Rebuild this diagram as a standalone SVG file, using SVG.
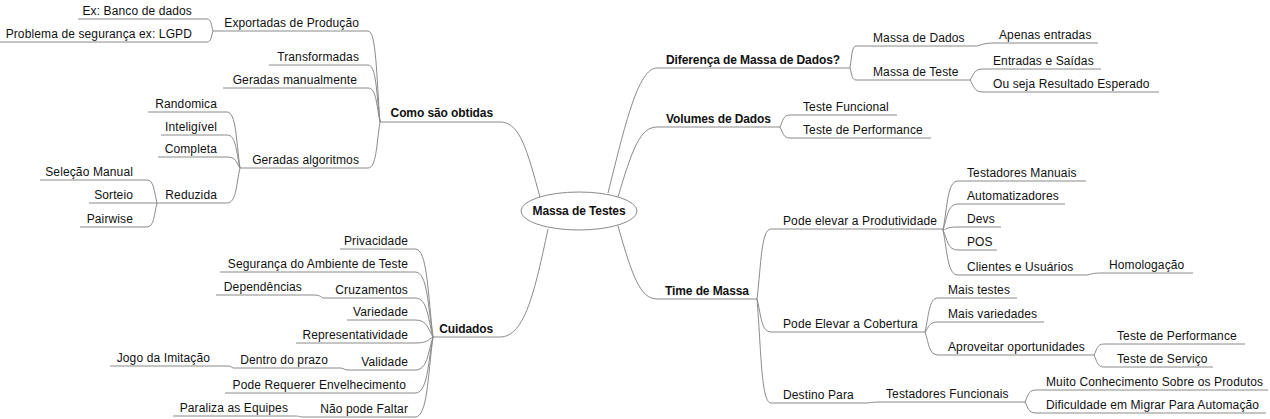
<svg xmlns="http://www.w3.org/2000/svg" width="1270" height="419" viewBox="0 0 1270 419">
<style>
text{font-family:"Liberation Sans",Arial,sans-serif;font-size:12px;fill:#111;letter-spacing:0.12px}
.b{font-weight:bold;letter-spacing:-0.1px}
.e{text-anchor:end}
.u,.c path{stroke:#8a8a8a;stroke-width:1;fill:none}
</style>
<rect width="1270" height="419" fill="#fff"/>
<g class="c" id="connectors">
<path d="M540 197 C527 150 520 122 500 122"/>
<path d="M548 229 C535 290 525 337 500 337"/>
<path d="M608 193 C625 125 638 68 657 68"/>
<path d="M618 197 C632 150 640 127 657 127"/>
<path d="M618 226 C632 275 640 299 657 299"/>
<path d="M380 122 C376.4 76.5 376.4 31 368 31"/>
<path d="M380 122 C376.4 93.5 376.4 65 368 65"/>
<path d="M380 122 C376.4 105 376.4 88 368 88"/>
<path d="M380 122 C376.4 145 376.4 168 368 168"/>
<path d="M213 31 C211.2 25 211.2 19 207 19"/>
<path d="M213 31 C211.2 36.5 211.2 42 207 42"/>
<path d="M240 168 C236.1 140 236.1 112 227 112"/>
<path d="M240 168 C236.1 151.5 236.1 135 227 135"/>
<path d="M240 168 C236.1 162.5 236.1 157 227 157"/>
<path d="M240 168 C236.1 185.5 236.1 203 227 203"/>
<path d="M157 203 C154 191.5 154 180 147 180"/>
<path d="M157 203 L147 203"/>
<path d="M157 203 C154 215 154 227 147 227"/>
<path d="M433 337 C427.6 293 427.6 249 415 249"/>
<path d="M433 337 C427.6 304.5 427.6 272 415 272"/>
<path d="M433 337 C427.6 317.5 427.6 298 415 298"/>
<path d="M433 337 C427.6 328.5 427.6 320 415 320"/>
<path d="M433 337 C427.6 340 427.6 343 415 343"/>
<path d="M433 337 C427.6 353.5 427.6 370 415 370"/>
<path d="M433 337 C427.6 365 427.6 393 415 393"/>
<path d="M433 337 C427.6 377 427.6 417 415 417"/>
<path d="M323 298 C320 296.5 320 295 313 295"/>
<path d="M347 370 C343 369 343 368 340 368"/>
<path d="M233 368 C231 367 231 366 227 366"/>
<path d="M302 417 C299 416.5 299 416 293 416"/>
<path d="M850 68 C851.8 57 851.8 46 856 46"/>
<path d="M850 68 C851.8 74 851.8 80 856 80"/>
<path d="M977 46 C983 44.5 983 43 997 43"/>
<path d="M970 80 C973.9 74.5 973.9 69 983 69"/>
<path d="M970 80 C973.9 86 973.9 92 983 92"/>
<path d="M780 127 C783 121 783 115 790 115"/>
<path d="M780 127 C783 132.5 783 138 790 138"/>
<path d="M757 299 C761.2 264 761.2 229 771 229"/>
<path d="M757 299 C761.2 315.5 761.2 332 771 332"/>
<path d="M757 299 C761.2 351 761.2 403 771 403"/>
<path d="M943 230 C947.5 205.5 947.5 181 958 181"/>
<path d="M943 230 C947.5 217 947.5 204 958 204"/>
<path d="M943 230 C947.5 228.5 947.5 227 958 227"/>
<path d="M943 230 C947.5 240 947.5 250 958 250"/>
<path d="M943 230 C947.5 252.5 947.5 275 958 275"/>
<path d="M1087 275 C1092 274 1092 273 1103 273"/>
<path d="M925 332 C928.9 315 928.9 298 938 298"/>
<path d="M925 332 C928.9 327 928.9 322 938 322"/>
<path d="M925 332 C928.9 343.5 928.9 355 938 355"/>
<path d="M1094 355 C1097 349.5 1097 344 1104 344"/>
<path d="M1094 355 C1097 361 1097 367 1104 367"/>
<path d="M867 403 C872 402.5 872 402 884 402"/>
<path d="M1025 402 C1028 396 1028 390 1036 390"/>
<path d="M1025 402 C1028 407.5 1028 413 1036 413"/>
</g>
<g id="root"><ellipse cx="579" cy="211" rx="58" ry="19" fill="#fff" stroke="#8a8a8a"/><text class="b" x="579" y="215" text-anchor="middle">Massa de Testes</text></g>
<g id="n-como"><text class="b e" x="493" y="117">Como são obtidas</text><path class="u" d="M380 122H500"/></g>
<g id="n-export"><text class="e" x="359" y="27">Exportadas de Produção</text><path class="u" d="M213 31H368"/></g>
<g id="n-exbanco"><text class="e" x="192" y="15">Ex: Banco de dados</text><path class="u" d="M78 19H207"/></g>
<g id="n-problema"><text class="e" x="192" y="38">Problema de segurança ex: LGPD</text><path class="u" d="M0 42H207"/></g>
<g id="n-transf"><text class="e" x="359" y="61">Transformadas</text><path class="u" d="M269 65H368"/></g>
<g id="n-manual"><text class="e" x="357" y="84">Geradas manualmente</text><path class="u" d="M223 88H368"/></g>
<g id="n-algo"><text class="e" x="359" y="164">Geradas algoritmos</text><path class="u" d="M240 168H368"/></g>
<g id="n-random"><text class="e" x="217" y="108">Randomica</text><path class="u" d="M148 112H227"/></g>
<g id="n-intel"><text class="e" x="217" y="131">Inteligível</text><path class="u" d="M161 135H227"/></g>
<g id="n-compl"><text class="e" x="217" y="153">Completa</text><path class="u" d="M158 157H227"/></g>
<g id="n-reduz"><text class="e" x="217" y="199">Reduzida</text><path class="u" d="M157 203H227"/></g>
<g id="n-selec"><text class="e" x="133" y="176">Seleção Manual</text><path class="u" d="M40 180H147"/></g>
<g id="n-sorteio"><text class="e" x="133" y="199">Sorteio</text><path class="u" d="M89 203H147"/></g>
<g id="n-pair"><text class="e" x="133" y="223">Pairwise</text><path class="u" d="M80 227H147"/></g>
<g id="n-cuid"><text class="b e" x="493" y="333">Cuidados</text><path class="u" d="M433 337H500"/></g>
<g id="n-priv"><text class="e" x="408" y="245">Privacidade</text><path class="u" d="M340 249H415"/></g>
<g id="n-segur"><text class="e" x="408" y="268">Segurança do Ambiente de Teste</text><path class="u" d="M220 272H415"/></g>
<g id="n-cruz"><text class="e" x="408" y="294">Cruzamentos</text><path class="u" d="M323 298H415"/></g>
<g id="n-depend"><text class="e" x="302" y="291">Dependências</text><path class="u" d="M216 295H313"/></g>
<g id="n-varied"><text class="e" x="408" y="316">Variedade</text><path class="u" d="M347 320H415"/></g>
<g id="n-repres"><text class="e" x="408" y="339">Representatividade</text><path class="u" d="M296 343H415"/></g>
<g id="n-valid"><text class="e" x="408" y="366">Validade</text><path class="u" d="M347 370H415"/></g>
<g id="n-prazo"><text class="e" x="328" y="364">Dentro do prazo</text><path class="u" d="M233 368H340"/></g>
<g id="n-jogo"><text class="e" x="210" y="362">Jogo da Imitação</text><path class="u" d="M110 366H227"/></g>
<g id="n-envelh"><text class="e" x="406" y="389">Pode Requerer Envelhecimento</text><path class="u" d="M225 393H415"/></g>
<g id="n-faltar"><text class="e" x="408" y="413">Não pode Faltar</text><path class="u" d="M302 417H415"/></g>
<g id="n-paraliza"><text class="e" x="288" y="412">Paraliza as Equipes</text><path class="u" d="M173 416H293"/></g>
<g id="n-difer"><text class="b" x="666" y="64">Diferença de Massa de Dados?</text><path class="u" d="M657 68H850"/></g>
<g id="n-mdados"><text x="873" y="42">Massa de Dados</text><path class="u" d="M856 46H977"/></g>
<g id="n-apenas"><text x="999" y="39">Apenas entradas</text><path class="u" d="M997 43H1098"/></g>
<g id="n-mteste"><text x="873" y="76">Massa de Teste</text><path class="u" d="M856 80H970"/></g>
<g id="n-entradas"><text x="993" y="65">Entradas e Saídas</text><path class="u" d="M983 69H1101"/></g>
<g id="n-ouseja"><text x="993" y="88">Ou seja Resultado Esperado</text><path class="u" d="M983 92H1159"/></g>
<g id="n-volumes"><text class="b" x="666" y="123">Volumes de Dados</text><path class="u" d="M657 127H780"/></g>
<g id="n-tfunc"><text x="803" y="111">Teste Funcional</text><path class="u" d="M790 115H897"/></g>
<g id="n-tperf"><text x="803" y="134">Teste de Performance</text><path class="u" d="M790 138H931"/></g>
<g id="n-time"><text class="b" x="665" y="295">Time de Massa</text><path class="u" d="M657 299H757"/></g>
<g id="n-produt"><text x="783" y="225">Pode elevar a Produtividade</text><path class="u" d="M771 229H943"/></g>
<g id="n-tmanuais"><text x="967" y="177">Testadores Manuais</text><path class="u" d="M958 181H1086"/></g>
<g id="n-autom"><text x="967" y="200">Automatizadores</text><path class="u" d="M958 204H1065"/></g>
<g id="n-devs"><text x="967" y="223">Devs</text><path class="u" d="M958 227H1001"/></g>
<g id="n-pos"><text x="967" y="246">POS</text><path class="u" d="M958 250H997"/></g>
<g id="n-clientes"><text x="967" y="271">Clientes e Usuários</text><path class="u" d="M958 275H1087"/></g>
<g id="n-homolog"><text x="1109" y="269">Homologação</text><path class="u" d="M1103 273H1193"/></g>
<g id="n-cobert"><text x="783" y="328">Pode Elevar a Cobertura</text><path class="u" d="M771 332H925"/></g>
<g id="n-maistestes"><text x="948" y="294">Mais testes</text><path class="u" d="M938 298H1017"/></g>
<g id="n-maisvar"><text x="948" y="318">Mais variedades</text><path class="u" d="M938 322H1044"/></g>
<g id="n-aprov"><text x="948" y="351">Aproveitar oportunidades</text><path class="u" d="M938 355H1094"/></g>
<g id="n-tperf2"><text x="1117" y="340">Teste de Performance</text><path class="u" d="M1104 344H1245"/></g>
<g id="n-tserv"><text x="1117" y="363">Teste de Serviço</text><path class="u" d="M1104 367H1213"/></g>
<g id="n-destino"><text x="783" y="399">Destino Para</text><path class="u" d="M771 403H867"/></g>
<g id="n-tfuncionais"><text x="886" y="398">Testadores Funcionais</text><path class="u" d="M884 402H1025"/></g>
<g id="n-muito"><text x="1046" y="386">Muito Conhecimento Sobre os Produtos</text><path class="u" d="M1036 390H1268"/></g>
<g id="n-dific"><text x="1046" y="409">Dificuldade em Migrar Para Automação</text><path class="u" d="M1036 413H1266"/></g>
</svg>
